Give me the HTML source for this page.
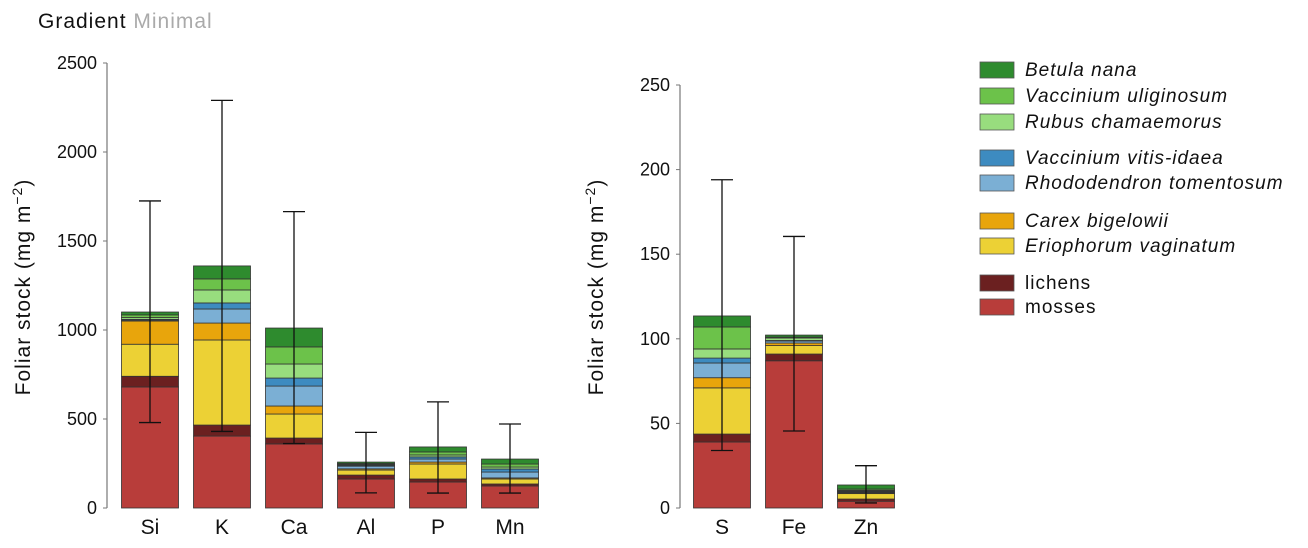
<!DOCTYPE html>
<html><head><meta charset="utf-8"><style>
body{margin:0;background:#fff;}
svg{display:block;font-family:"Liberation Sans",sans-serif;}
</style></head><body>
<svg id="c" width="1308" height="548">
<text x="38" y="28" font-size="21" letter-spacing="1"><tspan fill="#111">Gradient</tspan><tspan fill="#aaa"> Minimal</tspan></text>
</svg>
<script>
const species=["mosses","lichens","Eriophorum vaginatum","Carex bigelowii","Rhododendron tomentosum","Vaccinium vitis-idaea","Rubus chamaemorus","Vaccinium uliginosum","Betula nana"];
const colors=["#b83d3a","#6b2020","#ecd135","#e8a50c","#7bafd4","#3d8bc0","#98dd7e","#6cc24a","#2e8b2e"];
const leftCats=["Si","K","Ca","Al","P","Mn"];
const leftVals=[[680,60,180,130,5,5,10,15,16],[404,62,478,95,79,34,73,62,73],[360,33,135,45,112,45,79,96,106],[163,22,28,7,15,5,5,5,8],[146,17,84,11,17,12,11,17,28],[124,11,28,6,33,17,11,17,28]];
const leftErr=[[480,1725],[430,2290],[362,1665],[85,425],[84,596],[84,472]];
const leftTicks=[0,500,1000,1500,2000,2500];
const rightCats=["S","Fe","Zn"];
const rightVals=[[39,4.7,27.3,6,8.7,2.9,5.4,13,6.5],[87,4,5,1.5,1.2,0.3,1.5,0.5,1.2],[4,1.3,3.2,0.5,0.5,0.5,0.5,0.7,2.4]];
const rightErr=[[34,194],[45.5,160.5],[3,25]];
const rightTicks=[0,50,100,150,200,250];

const svg=document.getElementById('c');
const NS="http://www.w3.org/2000/svg";
function mk(t,a,p){const e=document.createElementNS(NS,t);for(const k in a)e.setAttribute(k,a[k]);(p||svg).appendChild(e);return e;}

function panel(cats,vals,errs,ticks,axX,x0,max,top,labelX,pname){
  const y0=508;const y=v=>y0-(v/max)*(y0-top);
  const g=mk('g',{});
  
  
  const ax=mk('line',{x1:axX,y1:top,x2:axX,y2:y0,stroke:'#777','stroke-width':1.2},g);
  
  
  ticks.forEach(t=>{
    mk('line',{x1:axX-4,x2:axX,y1:y(t),y2:y(t),stroke:'#777'},g);
    const tx=mk('text',{x:axX-10,y:y(t)+6,'font-size':18,'text-anchor':'end',fill:'#111'},g);
    tx.textContent=t;
    
    
  });
  const yl=mk('text',{x:labelX,y:287,'font-size':21,'letter-spacing':1,'text-anchor':'middle',transform:`rotate(-90 ${labelX} 287)`,fill:'#111'},g);
  yl.innerHTML='Foliar stock (mg m<tspan baseline-shift="super" font-size="14">−2</tspan>)';
  
  
  cats.forEach((c,i)=>{
    const cx=x0+i*72;let cum=0;
    vals[i].forEach((v,j)=>{
      const r=mk('rect',{x:cx-28.5,y:y(cum+v),width:57,height:Math.max(0,y(cum)-y(cum+v)),fill:colors[j],stroke:'#333','stroke-width':0.8},g);
      
      
      cum+=v;
    });
    const [lo,hi]=errs[i];
    const e=mk('path',{d:`M${cx},${y(lo)}V${y(hi)}M${cx-11},${y(lo)}H${cx+11}M${cx-11},${y(hi)}H${cx+11}`,stroke:'#111','stroke-width':1.3,fill:'none'},g);
    
    
    const xl=mk('text',{x:cx,y:534,'font-size':21,'text-anchor':'middle',fill:'#111'},g);
    xl.textContent=c;
    
    
  });
}
panel(leftCats,leftVals,leftErr,leftTicks,107,150,2500,63,30,'left-panel');
panel(rightCats,rightVals,rightErr,rightTicks,680,722,250,85,603,'right-panel');

const legY=[70,96,122,158,183,221,246,283,307];
const lg=mk('g',{});


for(let k=0;k<9;k++){
  const j=8-k;
  const r=mk('rect',{x:980,y:legY[k]-8,width:34,height:16,fill:colors[j],stroke:'#555','stroke-width':0.8},lg);
  
  
  const t=mk('text',{x:1025,y:legY[k]+6,'font-size':19,'letter-spacing':1,fill:'#111','font-style':j>1?'italic':'normal'},lg);
  t.textContent=species[j];
  
  
}
</script>
</body></html>
